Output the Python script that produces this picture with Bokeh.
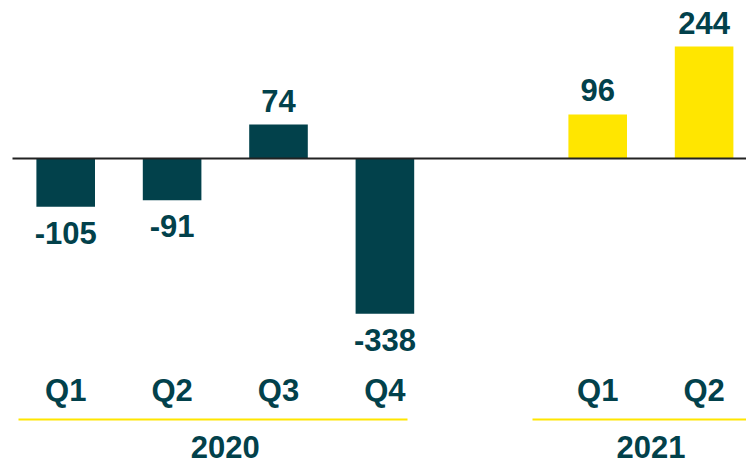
from bokeh.plotting import figure
from bokeh.models import ColumnDataSource, Range1d
from bokeh.core.properties import value
from bokeh.embed import file_html
from bokeh.resources import INLINE

# ---- data ----
years = ["2020", "2020", "2020", "2020", "2021", "2021"]
quarters = ["Q1", "Q2", "Q3", "Q4", "Q1", "Q2"]
values = [-105, -91, 74, -338, 96, 244]
slots = [0, 1, 2, 3, 5, 6]          # slot 4 left empty between years
year_labels = ["2020", "2021"]

TEAL = "#02414B"
YELLOW = "#FFE600"
colors = [TEAL if y == "2020" else YELLOW for y in years]

# ---- layout helpers (pixel geometry) ----
W, H = 746, 465
px_per_unit = 0.459
zero_px = 158.0
slot_px = 106.4
first_center_px = 65.2

x_start = -first_center_px / slot_px
x_end = (W - first_center_px) / slot_px
y_end = zero_px / px_per_unit
y_start = y_end - H / px_per_unit

def ydata(px):
    return y_end - px / px_per_unit

def xdata(px):
    return (px - first_center_px) / slot_px

p = figure(width=W, height=H, output_backend="svg", toolbar_location=None,
           x_range=Range1d(x_start, x_end), y_range=Range1d(y_start, y_end),
           min_border=0)
p.axis.visible = False
p.grid.visible = False
p.outline_line_color = None
p.background_fill_color = "white"

bw = 58.6 / slot_px
src = ColumnDataSource(dict(
    x=slots, top=values, color=colors,
    label=[str(v) for v in values],
    yoff=[-24 if v > 0 else 26 for v in values],
    q=quarters,
))

p.vbar(x="x", top="top", bottom=0, width=bw, fill_color="color",
       line_color=None, source=src)

# zero line
p.segment(x0=[xdata(12)], y0=[0], x1=[x_end], y1=[0], line_color="#222222", line_width=2)

FONT = value("Liberation Sans")
FS = "31px"
# value labels
p.text(x="x", y="top", text="label", source=src, text_font=FONT,
       text_font_size=FS, text_font_style="bold", text_color=TEAL,
       text_align="center", text_baseline="alphabetic", y_offset="yoff")

# quarter labels
qy = ydata(390)
p.text(x="x", y=qy, text="q", source=src, text_font=FONT,
       text_font_size=FS, text_font_style="bold", text_color=TEAL,
       text_align="center", text_baseline="alphabetic")

# yellow separator lines under each year
ly = ydata(419)
p.segment(x0=[xdata(18), xdata(532)], y0=[ly, ly],
          x1=[xdata(407), x_end], y1=[ly, ly],
          line_color=YELLOW, line_width=2)

# year labels centred under their quarters
yx = []
for yr in year_labels:
    xs = [s for s, y in zip(slots, years) if y == yr]
    yx.append(sum(xs) / len(xs))
p.text(x=yx, y=[ydata(446)] * 2, text=year_labels, text_font=FONT,
       text_font_size=FS, text_font_style="bold", text_color=TEAL,
       text_align="center", text_baseline="alphabetic")

open("out.html", "w").write(file_html(p, INLINE))
